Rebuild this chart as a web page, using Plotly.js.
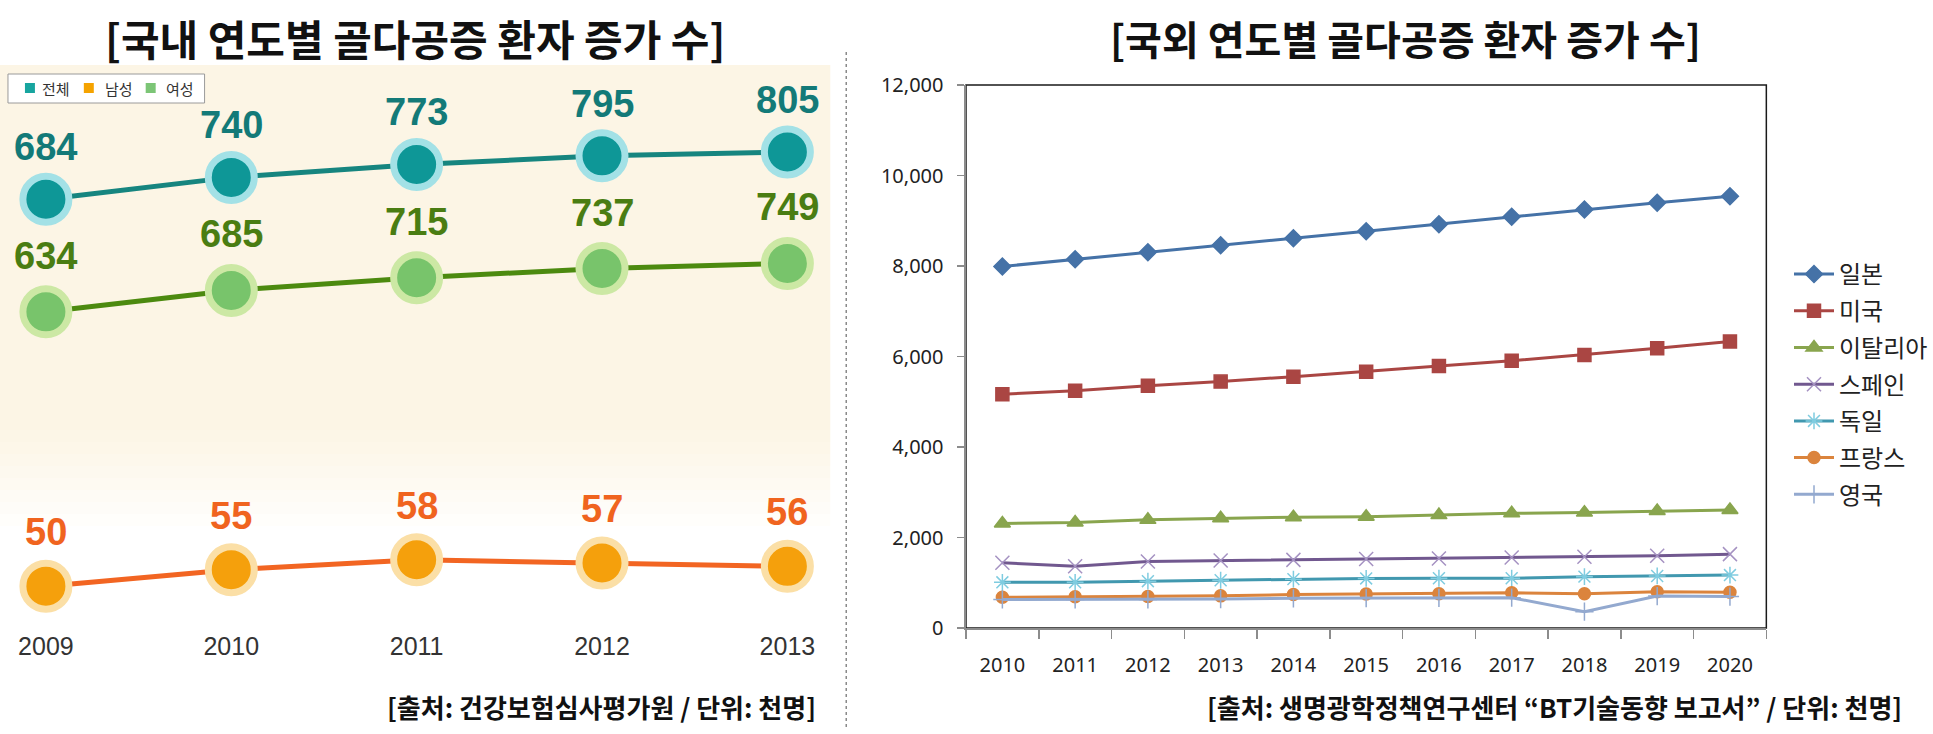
<!DOCTYPE html>
<html><head><meta charset="utf-8">
<script src="https://cdn.plot.ly/plotly-3.0.1.min.js"></script>
<style>html,body{margin:0;padding:0;background:#fff;} #chart{width:1933px;height:734px;}</style>
</head><body><div id="chart"></div>
<script>
// ---- Left chart data (국내) ----
const leftYears = ['2009', '2010', '2011', '2012', '2013'];
const totalPatients = [684, 740, 773, 795, 805];
const malePatients = [50, 55, 58, 57, 56];
const femalePatients = [634, 685, 715, 737, 749];
const leftSeriesNames = ['전체', '남성', '여성'];

// ---- Right chart data (국외) ----
const rightYears = ['2010', '2011', '2012', '2013', '2014', '2015', '2016', '2017', '2018', '2019', '2020'];
const japan = [7990, 8150, 8305, 8460, 8615, 8770, 8925, 9090, 9250, 9400, 9540];
const usa = [5165, 5245, 5355, 5445, 5555, 5665, 5790, 5905, 6035, 6180, 6330];
const italy = [2310, 2330, 2390, 2425, 2450, 2460, 2495, 2535, 2550, 2585, 2610];
const spain = [1440, 1365, 1470, 1490, 1505, 1525, 1535, 1560, 1575, 1598, 1632];
const germany = [1010, 1010, 1035, 1055, 1080, 1095, 1100, 1100, 1135, 1150, 1170];
const france = [680, 690, 695, 710, 740, 750, 755, 780, 755, 800, 790];
const uk = [630, 630, 630, 640, 655, 660, 665, 670, 360, 705, 695];
const countryNames = ['일본', '미국', '이탈리아', '스페인', '독일', '프랑스', '영국'];

const leftTitle = '[국내 연도별 골다공증 환자 증가 수]';
const rightTitle = '[국외 연도별 골다공증 환자 증가 수]';
const leftSource = '[출처: 건강보험심사평가원 / 단위: 천명]';
const rightSource = '[출처: 생명광학정책연구센터 “BT기술동향 보고서” / 단위: 천명]';

// ---- layout helpers (pixel -> paper) ----
const W = 1933, H = 734;
const px = v => v / W;
const py = v => 1 - v / H;
const KR = 'Noto Sans CJK KR, Noto Sans, sans-serif';
const NUM = 'Liberation Sans, Arial, sans-serif';

const traces = [];
const annotations = [];
const shapes = [];

// Left chart series
const leftSeries = [
  {name: leftSeriesNames[0], vals: totalPatients, yaxis: 'y', line: '#16857f', fill: '#0e9797', halo: '#a3e1e6', label: '#137a78', shift: 52, legendColor: '#17a59f'},
  {name: leftSeriesNames[1], vals: malePatients, yaxis: 'y3', line: '#f26522', fill: '#f5a00c', halo: '#fbdfa6', label: '#f0641f', shift: 54, legendColor: '#f5a300'},
  {name: leftSeriesNames[2], vals: femalePatients, yaxis: 'y2', line: '#4c8a0f', fill: '#78c46b', halo: '#cce8a4', label: '#4a7d12', shift: 56, legendColor: '#7cc576'}
];
leftSeries.forEach(s => {
  traces.push({
    x: leftYears, y: s.vals, xaxis: 'x', yaxis: s.yaxis, mode: 'lines+markers',
    line: {color: s.line, width: 5},
    marker: {size: 46, color: s.fill, line: {color: s.halo, width: 7}},
    showlegend: false, hoverinfo: 'skip'
  });
  s.vals.forEach((v, i) => {
    annotations.push({
      x: leftYears.indexOf(leftYears[i]), y: v, xref: 'x', yref: s.yaxis, yshift: s.shift,
      text: '<b>' + v + '</b>', showarrow: false, xanchor: 'center', yanchor: 'middle',
      font: {family: NUM, size: 38, color: s.label}
    });
  });
});

// Left chart legend box (drawn as a small key)
shapes.push({type: 'rect', xref: 'paper', yref: 'paper', x0: px(8), x1: px(205), y0: py(103), y1: py(74),
             line: {color: '#9a9a9a', width: 1}, fillcolor: '#ffffff'});
const keyOrder = [0, 1, 2];
const keySquareX = [30, 89, 151];
const keyTextX = [40, 103, 164];
keyOrder.forEach((k, j) => {
  const s = leftSeries[k];
  shapes.push({type: 'rect', xref: 'paper', yref: 'paper', x0: px(keySquareX[j] - 5), x1: px(keySquareX[j] + 5),
               y0: py(93), y1: py(83), line: {width: 0}, fillcolor: s.legendColor});
  annotations.push({xref: 'paper', yref: 'paper', x: px(keyTextX[j]), y: py(88.5), text: s.name, showarrow: false,
                    xanchor: 'left', yanchor: 'middle', font: {family: KR, size: 15, color: '#333'}});
});

// Right chart series
const rightSeries = [
  {vals: japan, color: '#4572a7', symbol: 'diamond', msize: 13, mcolor: '#4572a7'},
  {vals: usa, color: '#aa4643', symbol: 'square', msize: 13, mcolor: '#aa4643'},
  {vals: italy, color: '#89a54e', symbol: 'triangle-up', msize: 14, mcolor: '#89a54e'},
  {vals: spain, color: '#71588f', symbol: 'x-thin-open', msize: 14, mcolor: '#a592c2'},
  {vals: germany, color: '#4198af', symbol: 'asterisk-open', msize: 14, mcolor: '#7fcce0'},
  {vals: france, color: '#db843d', symbol: 'circle', msize: 12, mcolor: '#db843d'},
  {vals: uk, color: '#93a9cf', symbol: 'cross-thin-open', msize: 13, mcolor: '#93a9cf'}
];
rightSeries.forEach((s, k) => {
  traces.push({
    x: rightYears, y: s.vals, xaxis: 'x2', yaxis: 'y4', mode: 'lines+markers',
    name: countryNames[k], legendgroup: 'g' + k,
    line: {color: s.color, width: 3},
    marker: {symbol: s.symbol, size: s.msize, color: s.mcolor, line: {color: s.mcolor, width: 1.5}},
    hoverinfo: 'skip'
  });
});

// Titles and sources
annotations.push(
  {xref: 'paper', yref: 'paper', x: px(416), y: py(38), text: '<b>' + leftTitle + '</b>', showarrow: false,
   xanchor: 'center', yanchor: 'middle', font: {family: KR, size: 42, color: '#111'}},
  {xref: 'paper', yref: 'paper', x: px(1408), y: py(38), text: '<b>' + rightTitle + '</b>', showarrow: false,
   xanchor: 'center', yanchor: 'middle', font: {family: KR, size: 40, color: '#111'}},
  {xref: 'paper', yref: 'paper', x: px(820), y: py(706), text: '<b>' + leftSource + '</b>', showarrow: false,
   xanchor: 'right', yanchor: 'middle', font: {family: KR, size: 26, color: '#111'}},
  {xref: 'paper', yref: 'paper', x: px(1908), y: py(706), text: '<b>' + rightSource + '</b>', showarrow: false,
   xanchor: 'right', yanchor: 'middle', font: {family: KR, size: 26, color: '#111'}}
);

// cream panel with soft fade
shapes.unshift({type: 'rect', xref: 'paper', yref: 'paper', x0: 0, x1: px(832), y0: py(430), y1: py(65), line: {width: 0}, fillcolor: '#fcf5e5', layer: 'below'});
const fadeSteps = ['#fcf6e7', '#fdf7e9', '#fdf8ec', '#fdf9ef', '#fefaf2', '#fefbf5', '#fefcf8', '#fffefb'];
fadeSteps.forEach((c, k) => {
  shapes.push({type: 'rect', xref: 'paper', yref: 'paper', x0: 0, x1: px(832),
               y0: py(430 + (k + 1) * 12), y1: py(430 + k * 12), line: {width: 0}, fillcolor: c, layer: 'below'});
});
shapes.push(
  {type: 'line', xref: 'paper', yref: 'paper', x0: px(848), x1: px(848), y0: py(727), y1: py(50), line: {color: '#8a8a8a', width: 1.5, dash: 'dot'}},
  {type: 'rect', xref: 'x2 domain', yref: 'y4 domain', x0: 0, x1: 1, y0: 0, y1: 1, line: {color: '#1a1a1a', width: 1.5}, layer: 'below'}
);

const layout = {
  width: W, height: H,
  margin: {l: 0, r: 0, t: 0, b: 0},
  paper_bgcolor: '#ffffff', plot_bgcolor: 'rgba(0,0,0,0)',
  showlegend: true,
  xaxis: {domain: [0, px(832)], anchor: 'y', type: 'category', range: [-0.2476, 4.2314],
          showline: false, showgrid: false, zeroline: false, ticks: '',
          tickfont: {family: NUM, size: 25, color: '#333'}, ticklabelstandoff: 4, fixedrange: true},
  yaxis: {domain: [py(625), py(65)], anchor: 'x', range: [-403.0, 1027.0], visible: false, fixedrange: true},
  yaxis2: {overlaying: 'y', anchor: 'x', range: [-110.7, 1221.0], visible: false, fixedrange: true},
  yaxis3: {overlaying: 'y', anchor: 'x', range: [38.23, 207.9], visible: false, fixedrange: true},
  xaxis2: {domain: [px(968), px(1770)], anchor: 'y4', type: 'category', range: [-0.5, 10.5],
           showline: true, linecolor: '#8c8c8c', linewidth: 1.5, mirror: false,
           ticks: 'outside', tickson: 'boundaries', ticklen: 9, tickwidth: 1.5, tickcolor: '#8c8c8c',
           tickfont: {family: 'Noto Sans, sans-serif', size: 20, color: '#222'}, ticklabelstandoff: 18,
           showgrid: false, zeroline: false, fixedrange: true},
  yaxis4: {domain: [py(628), py(85)], anchor: 'x2', range: [0, 12000], dtick: 2000, tickformat: ',d',
           showline: true, linecolor: '#8c8c8c', linewidth: 1.5,
           ticks: 'outside', ticklen: 7, tickwidth: 1.5, tickcolor: '#8c8c8c',
           tickfont: {family: 'Noto Sans, sans-serif', size: 20, color: '#222'}, ticklabelstandoff: 10,
           showgrid: false, zeroline: false, fixedrange: true},
  legend: {x: px(1793), y: py(252), xanchor: 'left', yanchor: 'top', bgcolor: 'rgba(0,0,0,0)',
           font: {family: KR, size: 24, color: '#222'}, tracegroupgap: 2.5, itemwidth: 40, traceorder: 'grouped'},
  annotations: annotations,
  shapes: shapes
};

Plotly.newPlot('chart', traces, layout, {displayModeBar: false, staticPlot: true});
</script>
</body></html>
